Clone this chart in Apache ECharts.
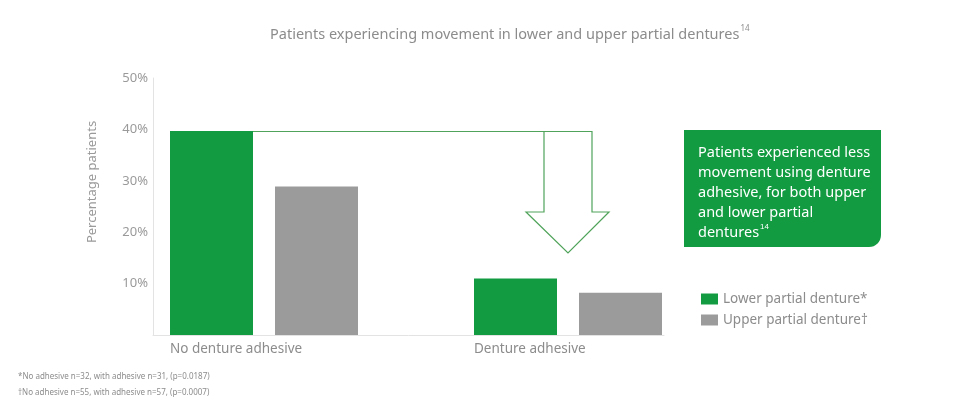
<!DOCTYPE html>
<html>
<head>
<meta charset="utf-8">
<script src="https://cdn.jsdelivr.net/npm/echarts@6/dist/echarts.min.js"></script>
<style>html,body{margin:0;padding:0;background:#fff;}#c{width:970px;height:416px;}</style>
</head>
<body>
<div id="c"></div>
<script>
const categories = ['No denture adhesive', 'Denture adhesive'];
const lowerPartial = [39.7, 11.0];
const upperPartial = [28.9, 8.2];
const seriesNames = ['Lower partial denture*', 'Upper partial denture\u2020'];
const yMin = 0, yMax = 50, yInterval = 10;
const titleText = 'Patients experiencing movement in lower and upper partial dentures';
const calloutLines = ['Patients experienced less', 'movement using denture', 'adhesive, for both upper', 'and lower partial', 'dentures'];
const footnotes = ['*No adhesive n=32, with adhesive n=31, (p=0.0187)', '\u2020No adhesive n=55, with adhesive n=57, (p=0.0007)'];

const GREEN = '#129b41';
const GRAY = '#9b9b9b';
const FONT = 'Noto Sans';

const chart = echarts.init(document.getElementById('c'), null, {renderer: 'canvas'});
chart.setOption({
  backgroundColor: '#fff',
  animation: false,
  textStyle: {fontFamily: FONT},
  title: {
    text: '{t|' + titleText + '}{s|14}',
    left: 265, top: 20,
    textStyle: {
      fontWeight: 'normal',
      rich: {
        t: {fontFamily: FONT, fontSize: 14.5, fontWeight: 'normal', color: '#8c8c8c', lineHeight: 20},
        s: {fontFamily: FONT, fontSize: 8, fontWeight: 'normal', color: '#8c8c8c', verticalAlign: 'top', lineHeight: 12, padding: [0,0,0,1]}
      }
    }
  },
  legend: {
    orient: 'vertical', left: 696, top: 287,
    icon: 'rect', itemWidth: 17, itemHeight: 11, itemGap: 7,
    textStyle: {fontFamily: FONT, fontSize: 13.5, color: '#8c8c8c'},
    data: seriesNames
  },
  grid: [
    {left: 112, right: 250, top: 78, bottom: 81},
    {left: 153, right: 306, top: 78, bottom: 81}
  ],
  xAxis: [
    {type: 'category', gridIndex: 0, data: categories,
     axisLine: {show: false}, axisTick: {show: false},
     axisLabel: {margin: 7, formatter: v => '{a|' + v + '}',
       rich: {a: {width: 188, align: 'left', fontFamily: FONT, fontSize: 13.5, color: '#8c8c8c'}}}},
    {type: 'category', gridIndex: 1, data: categories,
     axisLine: {show: true, lineStyle: {color: '#e3e3e3', width: 1}},
     axisTick: {show: false}, axisLabel: {show: false}}
  ],
  yAxis: [
    {type: 'value', gridIndex: 0, min: yMin, max: yMax, interval: yInterval, show: false},
    {type: 'value', gridIndex: 1, min: yMin, max: yMax, interval: yInterval,
     axisLine: {show: true, lineStyle: {color: '#e3e3e3', width: 1}},
     axisTick: {show: false}, splitLine: {show: false},
     axisLabel: {margin: 5, fontFamily: FONT, fontSize: 13, color: '#9a9a9a',
       formatter: v => v === 0 ? '' : v + '%'}}
  ],
  series: [
    {name: seriesNames[0], type: 'bar', xAxisIndex: 0, yAxisIndex: 0,
     data: lowerPartial, barWidth: 83, barGap: '26.5%', itemStyle: {color: GREEN}},
    {name: seriesNames[1], type: 'bar', xAxisIndex: 0, yAxisIndex: 0,
     data: upperPartial, barWidth: 83, barGap: '26.5%', itemStyle: {color: GRAY}}
  ],
  graphic: [
    {type: 'text', x: 92, y: 182, rotation: Math.PI / 2,
     style: {text: 'Percentage patients', font: '13px "' + FONT + '"', fill: '#9a9a9a',
       textAlign: 'center', textVerticalAlign: 'middle'}},
    {type: 'polyline', silent: true,
     shape: {points: [[253, 131.5], [592, 131.5], [592, 212], [609, 212], [568, 253], [526, 212], [544, 212], [544, 131.5]]},
     style: {stroke: '#4fa35a', lineWidth: 1.2, fill: null}},
    {type: 'rect', left: 684, top: 130, shape: {width: 197, height: 117, r: [0, 0, 12, 0]},
     style: {fill: GREEN}},
    {type: 'text', left: 698, top: 143,
     style: {text: calloutLines.join('\n') + '{s|14}', fill: '#fff',
       font: '14.5px "' + FONT + '"', lineHeight: 20,
       rich: {s: {fontSize: 8, fill: '#fff', verticalAlign: 'top', lineHeight: 12, padding: [0,0,0,1]}}}},
    {type: 'text', left: 18, top: 373,
     style: {text: footnotes[0], fill: '#8c8c8c', font: '8px "' + FONT + '"'}},
    {type: 'text', left: 18, top: 389,
     style: {text: footnotes[1], fill: '#8c8c8c', font: '8px "' + FONT + '"'}}
  ]
});
</script>
</body>
</html>
